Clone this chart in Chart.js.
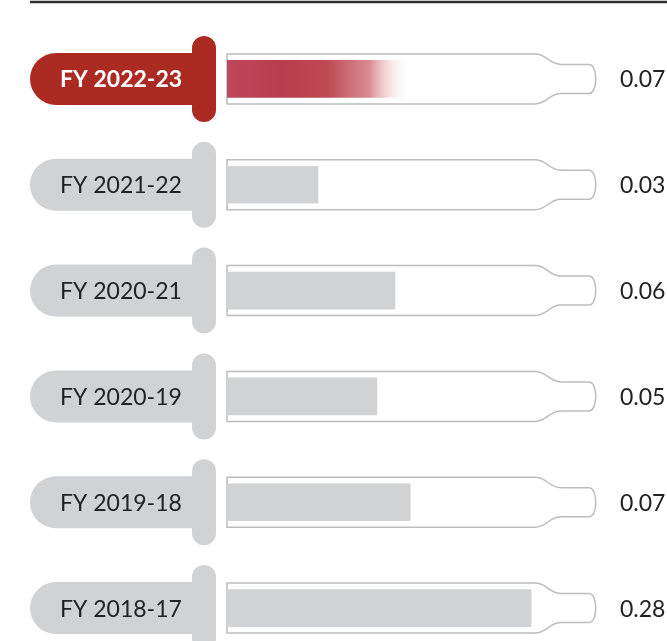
<!DOCTYPE html>
<html>
<head>
<meta charset="utf-8">
<script src="https://cdn.jsdelivr.net/npm/chart.js@4"></script>
<style>
  html, body { margin: 0; padding: 0; background: #fff; overflow: hidden; }
  #wrap { width: 667px; height: 641px; overflow: hidden; }
</style>
</head>
<body>
<div id="wrap"><canvas id="myChart" width="667" height="680"></canvas></div>
<script>
// years shown on the pills
const years = ['FY 2022-23', 'FY 2021-22', 'FY 2020-21', 'FY 2020-19', 'FY 2019-18', 'FY 2018-17'];
// numbers printed at the right of each tube
const values = ['0.07', '0.03', '0.06', '0.05', '0.07', '0.28'];
// how full each tube is, in percent of the tube length
const fillLevels = [49.5, 24.6, 45.4, 40.5, 49.5, 82.2];

const RED = '#ab2b22';
const GREY = '#d1d2d4';
const FONT = 'Lato, "Open Sans", sans-serif';

document.addEventListener('DOMContentLoaded', () => {
    const ctx = document.getElementById('myChart');

    function roundRect(c, x, y, w, h, r) {
        c.beginPath();
        c.moveTo(x + r, y);
        c.lineTo(x + w - r, y);
        c.arcTo(x + w, y, x + w, y + r, r);
        c.lineTo(x + w, y + h - r);
        c.arcTo(x + w, y + h, x + w - r, y + h, r);
        c.lineTo(x + r, y + h);
        c.arcTo(x, y + h, x, y + h - r, r);
        c.lineTo(x, y + r);
        c.arcTo(x, y, x + r, y, r);
        c.closePath();
    }

    const dropperPlugin = {
        id: 'dropper',
        beforeDatasetsDraw(chart) {
            const c = chart.ctx;
            const xs = chart.scales.x;
            const ys = chart.scales.y;
            const left = xs.getPixelForValue(0);
            const right = xs.getPixelForValue(100);

            c.save();
            // rule at the top
            c.strokeStyle = '#2e2e2e';
            c.lineWidth = 2.5;
            c.beginPath();
            c.moveTo(30, 2);
            c.lineTo(667, 2);
            c.stroke();

            years.forEach((label, i) => {
                const cy = ys.getPixelForValue(i);
                const col = i === 0 ? RED : GREY;

                // tube outline
                const bh = 25, nh = 14.5;
                c.beginPath();
                c.moveTo(left, cy - bh);
                c.lineTo(right - 62, cy - bh);
                c.bezierCurveTo(right - 50, cy - bh, right - 48, cy - nh, right - 36, cy - nh);
                c.lineTo(right - 8, cy - nh);
                c.bezierCurveTo(right + 1, cy - nh, right + 1, cy + nh, right - 8, cy + nh);
                c.lineTo(right - 36, cy + nh);
                c.bezierCurveTo(right - 48, cy + nh, right - 50, cy + bh, right - 62, cy + bh);
                c.lineTo(left, cy + bh);
                c.closePath();
                c.fillStyle = '#fff';
                c.fill();
                c.strokeStyle = '#bdbdbd';
                c.lineWidth = 1.5;
                c.stroke();

                // pill with label
                c.fillStyle = col;
                c.beginPath();
                c.moveTo(200, cy - 26);
                c.lineTo(56, cy - 26);
                c.arc(56, cy, 26, -Math.PI / 2, Math.PI / 2, true);
                c.lineTo(200, cy + 26);
                c.closePath();
                c.fill();
                // plunger stem
                roundRect(c, 192, cy - 43, 24, 86, 12);
                c.fill();

                c.font = (i === 0 ? 'bold ' : '') + '23px ' + FONT;
                c.fillStyle = i === 0 ? '#fff' : '#222';
                c.textAlign = 'left';
                c.textBaseline = 'middle';
                c.fillText(label, 60, cy + 1);
            });
            c.restore();
        },
        afterDraw(chart) {
            const c = chart.ctx;
            const ys = chart.scales.y;
            c.save();
            c.font = '23px ' + FONT;
            c.fillStyle = '#222';
            c.textAlign = 'left';
            c.textBaseline = 'middle';
            values.forEach((v, i) => {
                c.fillText(v, 620, ys.getPixelForValue(i) + 1);
            });
            c.restore();
        }
    };

    new Chart(ctx, {
        type: 'bar',
        data: {
            labels: years,
            datasets: [{
                data: fillLevels,
                backgroundColor: (context) => {
                    const chart = context.chart;
                    if (!chart.chartArea) return GREY;
                    if (context.dataIndex !== 0) return GREY;
                    const xs = chart.scales.x;
                    const x0 = xs.getPixelForValue(0);
                    const x1 = xs.getPixelForValue(fillLevels[0]);
                    const g = chart.ctx.createLinearGradient(x0, 0, x1, 0);
                    g.addColorStop(0, 'rgba(190,72,92,1)');
                    g.addColorStop(0.3, 'rgba(183,62,76,1)');
                    g.addColorStop(0.55, 'rgba(190,74,84,1)');
                    g.addColorStop(0.78, 'rgba(214,128,134,0.9)');
                    g.addColorStop(1, 'rgba(255,255,255,0)');
                    return g;
                },
                borderWidth: 0,
                barThickness: 37
            }]
        },
        options: {
            indexAxis: 'y',
            responsive: false,
            animation: false,
            layout: {
                padding: { top: 26, bottom: 19, left: 227, right: 70 }
            },
            plugins: {
                legend: { display: false },
                tooltip: { enabled: false }
            },
            scales: {
                x: { display: false, min: 0, max: 100 },
                y: { display: false }
            }
        },
        plugins: [dropperPlugin]
    });
});
</script>
</body>
</html>
